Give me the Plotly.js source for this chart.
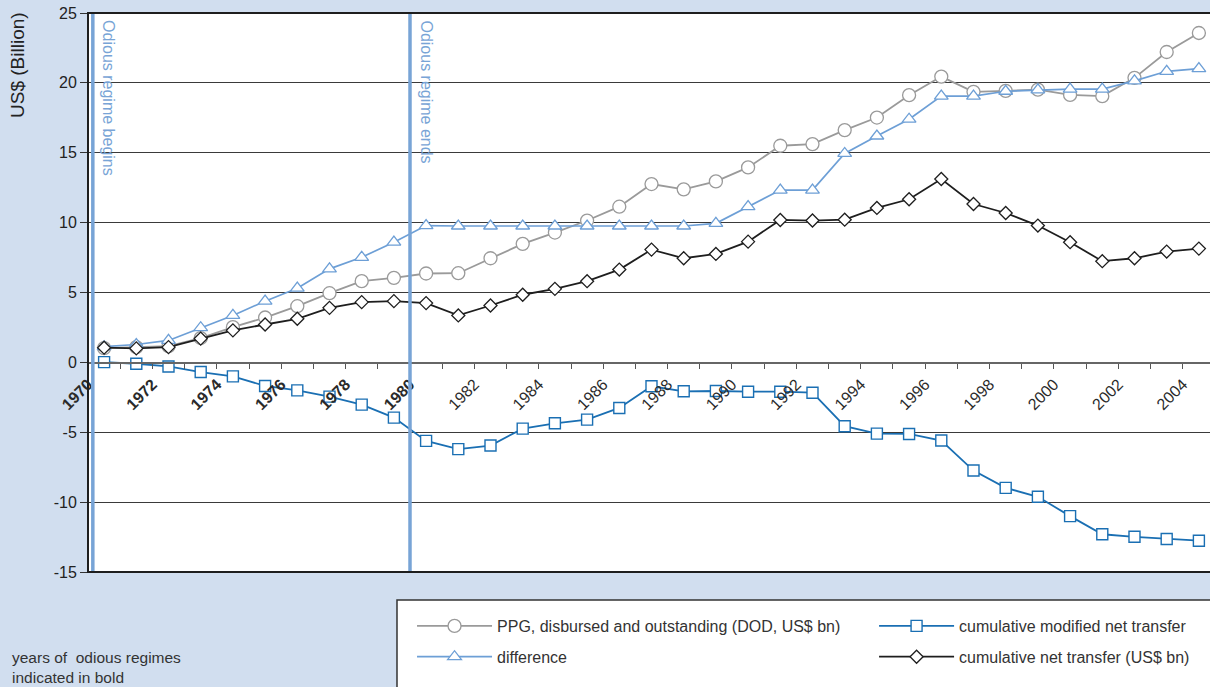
<!DOCTYPE html>
<html>
<head>
<meta charset="utf-8">
<script src="https://cdn.plot.ly/plotly-3.0.1.min.js"></script>
<style>html,body{margin:0;padding:0;background:#d1deef;}#chart{width:1210px;height:687px;}</style>
</head>
<body>
<div id="chart"></div>
<script>
// ---- data ----
const years = [1970,1971,1972,1973,1974,1975,1976,1977,1978,1979,1980,1981,1982,1983,1984,1985,1986,1987,1988,1989,1990,1991,1992,1993,1994,1995,1996,1997,1998,1999,2000,2001,2002,2003,2004];
const ppgDOD = [1.02,1.09,1.16,1.74,2.52,3.21,4.02,4.95,5.81,6.05,6.36,6.38,7.45,8.48,9.29,10.15,11.14,12.76,12.38,12.95,13.95,15.5,15.62,16.62,17.52,19.12,20.45,19.36,19.43,19.52,19.14,19.05,20.36,22.21,23.57];
const difference = [1.12,1.28,1.57,2.48,3.36,4.38,5.31,6.69,7.52,8.6,9.79,9.76,9.76,9.76,9.76,9.76,9.76,9.76,9.76,9.95,11.14,12.33,12.33,14.95,16.2,17.4,19.05,19.05,19.4,19.5,19.55,19.55,20.14,20.83,21.02];
const cumModNetTransfer = [0.02,-0.1,-0.29,-0.69,-1.0,-1.69,-2.0,-2.45,-3.02,-3.95,-5.62,-6.21,-5.95,-4.74,-4.36,-4.1,-3.26,-1.71,-2.07,-2.05,-2.1,-2.1,-2.17,-4.57,-5.1,-5.12,-5.59,-7.74,-8.98,-9.62,-11.0,-12.3,-12.48,-12.64,-12.76];
const cumNetTransfer = [1.05,1.0,1.09,1.7,2.29,2.71,3.12,3.9,4.31,4.38,4.24,3.36,4.07,4.84,5.26,5.81,6.64,8.07,7.45,7.76,8.64,10.19,10.15,10.21,11.05,11.67,13.12,11.33,10.69,9.79,8.6,7.24,7.45,7.93,8.14];
const yTickVals = [-15,-10,-5,0,5,10,15,20,25];
const yTickText = ['-15','-10','-5','0','5','10','15','20','25'];
const tickYears = years;               // one tick per year boundary
const boldUntil = 1980;                // years of odious regime (bold labels)
const regimeBegin = 1969.65, regimeEnd = 1979.5;
const seriesNames = ['PPG, disbursed and outstanding (DOD, US$ bn)','difference','cumulative modified net transfer','cumulative net transfer (US$ bn)'];

// ---- tick labels ----
const tickvals = tickYears.map(y => y - 0.5);
const ticktext = tickYears.map((y, i) => {
  if (i % 2 !== 0) return '';
  return y <= boldUntil ? '<b>' + y + '</b>' : String(y);
});

const FONT = 'Liberation Sans, Arial, sans-serif';
const BLUE_L = '#78a4d6';

const traces = [
  {x: years, y: ppgDOD, name: seriesNames[0], mode: 'lines+markers', legend: 'legend', legendgroup: 'a',
   line: {color: '#9a9a9a', width: 1.8},
   marker: {symbol: 'circle', size: 13, color: '#ffffff', line: {color: '#9a9a9a', width: 1.3}}},
  {x: years, y: difference, name: seriesNames[1], mode: 'lines+markers', legend: 'legend', legendgroup: 'b',
   line: {color: '#6d9fd6', width: 1.7},
   marker: {symbol: 'triangle-up', size: 12, color: '#ffffff', line: {color: '#6d9fd6', width: 1.3}}},
  {x: years, y: cumModNetTransfer, name: seriesNames[2], mode: 'lines+markers', legend: 'legend2', legendgroup: 'c',
   line: {color: '#1a6fb3', width: 1.8},
   marker: {symbol: 'square', size: 11, color: '#ffffff', line: {color: '#1a6fb3', width: 1.4}}},
  {x: years, y: cumNetTransfer, name: seriesNames[3], mode: 'lines+markers', legend: 'legend2', legendgroup: 'd',
   line: {color: '#1e1e1e', width: 1.8},
   marker: {symbol: 'diamond', size: 10, color: '#ffffff', line: {color: '#1e1e1e', width: 1.3}}}
];

const legendCommon = {orientation: 'v', xanchor: 'left', yanchor: 'top', traceorder: 'grouped',
  bgcolor: 'rgba(0,0,0,0)', borderwidth: 0, tracegroupgap: 7, itemwidth: 75,
  font: {family: FONT, size: 16, color: '#333'}};

const layout = {
  width: 1210, height: 687,
  margin: {l: 88, r: 0, t: 13, b: 115, autoexpand: false},
  paper_bgcolor: '#d1deef', plot_bgcolor: '#ffffff',
  font: {family: FONT, size: 16, color: '#222'},
  showlegend: true,
  legend: Object.assign({}, legendCommon, {x: 0.2888, y: -0.0662}),
  legend2: Object.assign({}, legendCommon, {x: 0.7006, y: -0.0662}),
  xaxis: {range: [1969.5, 2004.345], anchor: 'free', position: 0.375,
          tickmode: 'array', tickvals: tickvals, ticktext: ticktext, tickangle: -45,
          ticks: 'outside', ticklen: 5, tickcolor: '#555', tickwidth: 1,
          showline: true, linecolor: '#666', linewidth: 1.5, showgrid: false, zeroline: false,
          tickfont: {family: FONT, size: 16, color: '#2a2a2a'}},
  yaxis: {range: [-15, 25], tickmode: 'array', tickvals: yTickVals, ticktext: yTickText,
          ticks: 'outside', ticklen: 7, tickcolor: '#333',
          showgrid: true, gridcolor: '#3a3a3a', gridwidth: 1.2, zeroline: false,
          showline: false, tickfont: {family: FONT, size: 16, color: '#222'}},
  shapes: [
    {type: 'rect', xref: 'paper', yref: 'paper', x0: 0.2754, x1: 1.02, y0: -0.0501, y1: -0.3,
     fillcolor: '#ffffff', line: {color: '#333', width: 1.5}},
    {type: 'line', xref: 'x', yref: 'paper', x0: regimeBegin, x1: regimeBegin, y0: 0, y1: 1,
     line: {color: BLUE_L, width: 3.5}},
    {type: 'line', xref: 'x', yref: 'paper', x0: regimeEnd, x1: regimeEnd, y0: 0, y1: 1,
     line: {color: BLUE_L, width: 3.5}},
    {type: 'rect', xref: 'paper', yref: 'paper', x0: 0, x1: 1.01, y0: 0, y1: 1,
     line: {color: '#1e1e1e', width: 2}}
  ],
  annotations: [
    {text: 'US$ (Billion)', textangle: -90, xref: 'paper', yref: 'paper', x: -0.0624, y: 1.0054,
     xanchor: 'center', yanchor: 'top', showarrow: false, font: {family: FONT, size: 19, color: '#222'}},
    {text: 'Odious regime begins', textangle: 90, xref: 'x', yref: 'paper', x: 1970.15, y: 0.991,
     xanchor: 'center', yanchor: 'top', showarrow: false, font: {family: FONT, size: 16, color: BLUE_L}},
    {text: 'Odious regime ends', textangle: 90, xref: 'x', yref: 'paper', x: 1980.0, y: 0.991,
     xanchor: 'center', yanchor: 'top', showarrow: false, font: {family: FONT, size: 16, color: BLUE_L}},
    {text: 'years of  odious regimes<br>indicated in bold', xref: 'paper', yref: 'paper', x: -0.0695, y: -0.1342,
     xanchor: 'left', yanchor: 'top', align: 'left', showarrow: false, font: {family: FONT, size: 15.5, color: '#333'}}
  ]
};

Plotly.newPlot('chart', traces, layout, {displayModeBar: false, staticPlot: true});
</script>
</body>
</html>
